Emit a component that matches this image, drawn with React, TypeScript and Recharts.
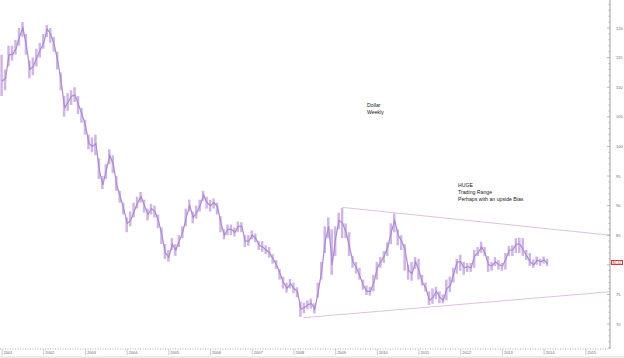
import React from "react";
import { ComposedChart, Bar, Line, XAxis, YAxis, ReferenceLine } from "recharts";

// monthly bars, Jan 2001 .. Feb 2014
const startYear = 2001;

const closes = [
  111, 111.5, 115.5, 115.5, 116.5, 118.5, 120, 117, 113, 113.5, 115, 116.3,
  117.5, 119.8, 119, 117.2, 114.5, 111, 106.5, 107.5, 108.5, 108.7, 107, 105.5,
  103.5, 100.5, 100, 100.5, 96, 93.5, 96, 98.5, 97, 93.5, 91.5, 89.5,
  87, 87.5, 89, 90.5, 91.5, 90, 88.5, 89.5, 89, 87.5, 85, 82,
  81.3, 83.5, 82.5, 84, 85.5, 88, 90, 88, 88.8, 90, 91.8, 90.5,
  90, 90.5, 89.8, 87, 85, 86, 86, 85.5, 86.5, 86.5, 84, 84,
  85, 84.5, 83.3, 83, 82.5, 82, 81, 80, 78.5, 77, 76, 76.8,
  76, 75.5, 72.5, 72.8, 73.2, 73.5, 72.5, 75.5, 79, 84, 86.5, 80,
  84.5, 87.5, 87, 85.5, 83, 80.5, 79.5, 78, 76.5, 75.5, 75.5, 77,
  79.5, 80.5, 81.5, 83, 85.5, 87.5, 85, 84, 82.5, 79, 78.5, 80.5,
  79, 77, 76, 74, 74.5, 75.5, 74.5, 74, 76, 76.5, 78.5, 80.5,
  80.5, 79.5, 79.7, 79.5, 81.5, 82, 83, 82, 80, 79.8, 80.5, 80,
  79.8, 81, 82.5, 82.5, 83.5, 83.5, 82.5, 81.5, 80.5, 80, 80.8, 80.5,
  80.8, 80.2,
];

const lows = [
  108.5, 109.5, 113.5, 114.5, 115.5, 117, 118.5, 115.5, 111.5, 112, 113.5, 115,
  116.5, 118.5, 117.5, 116, 113, 109.5, 105, 106, 107, 107.5, 105.5, 104,
  102, 99.5, 99, 98.5, 94.5, 92.8, 94.5, 97, 95.5, 92.5, 90.5, 88.5,
  85.5, 86.5, 88, 89.5, 90.5, 88.8, 87.5, 88.5, 88, 86.2, 83.5, 81,
  80.5, 82.5, 81.5, 83, 84.5, 86.5, 89, 87, 87.8, 89, 90.8, 89.5,
  89, 89.5, 88.5, 85.5, 84.3, 85, 85, 84.8, 85.5, 85.5, 83, 83.2,
  84.3, 83.8, 82.5, 82.2, 81.8, 81.2, 80.2, 79.3, 77.5, 76, 75.3, 76,
  75.2, 74.5, 71.2, 71.8, 72.5, 72.6, 71.8, 74.5, 77.5, 82, 84.5, 78.3,
  81.5, 86, 84.5, 84.5, 81.5, 79.5, 78.5, 77.5, 75.8, 74.9, 74.8, 75.5,
  77.5, 79.5, 80.3, 81.5, 83.5, 85.5, 83.3, 82.5, 79, 77.5, 77.3, 79.3,
  77.5, 76.5, 75.5, 73.2, 73.4, 74.2, 73.5, 73.5, 74, 75.4, 77, 78.5,
  79, 78.3, 78.8, 78.8, 79.5, 81.5, 82, 81.5, 78.8, 79, 79.8, 79.2,
  79, 79.2, 81.5, 81.5, 82, 82, 81.5, 80.8, 79.8, 79.5, 80, 79.8,
  80.2, 79.8,
];

const highs = [
  115.5, 113, 117, 117, 118, 120, 121, 119, 114.5, 115, 116.5, 117.5,
  119, 120.5, 120, 118.5, 116, 112.5, 108.5, 109, 109.5, 110, 108.5, 106.5,
  104.5, 102, 101.5, 102, 98, 95, 97, 99.5, 98.5, 95, 92.5, 90.5,
  88, 89, 90.5, 91.5, 92.3, 91, 89.5, 90.3, 90, 88.5, 86.3, 83.5,
  82.5, 84.5, 83.5, 85, 86.5, 89.5, 91, 89, 90, 91, 92.5, 91.5,
  91, 91.2, 90.5, 88.2, 86, 86.8, 86.8, 86.3, 87.3, 87.2, 85, 85,
  85.8, 85.3, 84, 84, 83.3, 83, 81.8, 80.8, 79.3, 78, 77, 77.6,
  77, 76.2, 73.8, 73.6, 74, 74.3, 73.5, 77, 80.5, 86.5, 88, 86,
  86.5, 88.8, 89.6, 87, 85.5, 81.5, 80.5, 79.5, 77.5, 76.5, 76.3, 78.3,
  80.5, 81.3, 82.3, 83.8, 87, 88.7, 86, 85, 83.5, 80, 80.5, 81.3,
  81, 78.3, 77, 75.5, 76, 76.3, 75.5, 75, 77.5, 78, 79.5, 81,
  81.7, 80.5, 80.3, 80.3, 82.5, 83, 83.9, 83, 81.5, 80.5, 81.3, 80.8,
  80.3, 82, 83.2, 83.3, 84.5, 84.6, 84.5, 82.5, 82, 80.9, 81.4, 81,
  81.4, 81,
];

const yearTicks = [2001, 2002, 2003, 2004, 2005, 2006, 2007, 2008, 2009, 2010, 2011, 2012, 2013, 2014, 2015];
// 80 sits under the last-price box, as in the original
const priceLabels = [70, 75, 85, 90, 95, 100, 105, 110, 115, 120];
const majorTicks = [70, 75, 80, 85, 90, 95, 100, 105, 110, 115, 120];
const lastPrice = "80.12";

const upperTrend = [
  { x: 2009.16, y: 89.7 },
  { x: 2015.58, y: 85.0 },
];
const lowerTrend = [
  { x: 2008.22, y: 71.06 },
  { x: 2015.58, y: 75.45 },
];

const data = closes.map((c, i) => ({
  t: startYear + i / 12,
  close: c,
  range: [lows[i], highs[i]],
}));

const minorTicks: number[] = [];
for (let v = 66; v <= 124; v++) minorTicks.push(v);

const trendColor = "#dcc2de";
const font = "'Liberation Sans', Arial, sans-serif";

const PriceTick = (props: any) => {
  const { x, y, payload } = props;
  const major = majorTicks.includes(payload.value);
  return (
    <g>
      <line x1={x} x2={x - (major ? 3 : 1.5)} y1={y} y2={y} stroke="#888" strokeWidth={0.6} />
      {priceLabels.includes(payload.value) && (
        <text x={x + 6} y={y + 1.5} fontSize={4} fill="#666" fontFamily={font}>
          {payload.value}
        </text>
      )}
    </g>
  );
};

const YearTick = (props: any) => {
  const { x, y, payload } = props;
  return (
    <g>
      <line x1={x} x2={x} y1={y} y2={y + 6} stroke="#aaa" strokeWidth={0.6} />
      <text x={x + 1.5} y={y + 5} fontSize={4} fill="#666" fontFamily={font}>
        {payload.value}
      </text>
    </g>
  );
};

const noteStyle: React.CSSProperties = {
  position: "absolute",
  fontFamily: font,
  fontSize: 5.2,
  lineHeight: "7px",
  color: "#222",
  whiteSpace: "nowrap",
};

export default function App() {
  return (
    <div style={{ position: "absolute", left: 0, top: 0, width: 624, height: 358, background: "#fff", overflow: "hidden" }}>
      <ComposedChart width={624} height={358} data={data} margin={{ top: 0, right: 0, bottom: 0, left: 0 }}>
        <XAxis
          dataKey="t"
          type="number"
          domain={[2000.95, 2015.58]}
          allowDataOverflow
          ticks={yearTicks}
          interval={0}
          tick={<YearTick />}
          tickSize={0}
          tickMargin={0}
          tickLine={false}
          height={9}
          axisLine={{ stroke: "#999", strokeDasharray: "1 1.5", strokeWidth: 0.8 }}
        />
        <YAxis
          orientation="right"
          type="number"
          domain={[65.78, 124.73]}
          allowDataOverflow
          ticks={minorTicks}
          interval={0}
          tick={<PriceTick />}
          tickSize={0}
          tickMargin={0}
          tickLine={false}
          width={14}
          axisLine={{ stroke: "#888", strokeWidth: 0.8 }}
        />
        <Bar dataKey="range" fill="#cfb6e5" barSize={2.5} isAnimationActive={false} />
        <Line
          dataKey="close"
          stroke="#ad89d0"
          strokeWidth={1.2}
          dot={false}
          activeDot={false}
          isAnimationActive={false}
        />
        <ReferenceLine segment={upperTrend} stroke={trendColor} strokeWidth={1} />
        <ReferenceLine segment={lowerTrend} stroke={trendColor} strokeWidth={1} />
      </ComposedChart>

      <div style={{ ...noteStyle, left: 367, top: 102 }}>
        Dollar
        <br />
        Weekly
      </div>
      <div style={{ ...noteStyle, left: 458, top: 181.5 }}>
        HUGE
        <br />
        Trading Range
        <br />
        Perhaps with an upside Bias
      </div>

      <div
        style={{
          position: "absolute",
          left: 611,
          top: 259.5,
          width: 12,
          height: 5,
          border: "0.6px solid #d04040",
          background: "#fff",
          color: "#c03030",
          fontFamily: font,
          fontSize: 3.8,
          lineHeight: "5px",
          textAlign: "center",
          boxSizing: "border-box",
        }}
      >
        {lastPrice}
      </div>
      <div style={{ position: "absolute", left: 0, top: 355.5, width: 624, height: 3, background: "#ececec" }} />
    </div>
  );
}
